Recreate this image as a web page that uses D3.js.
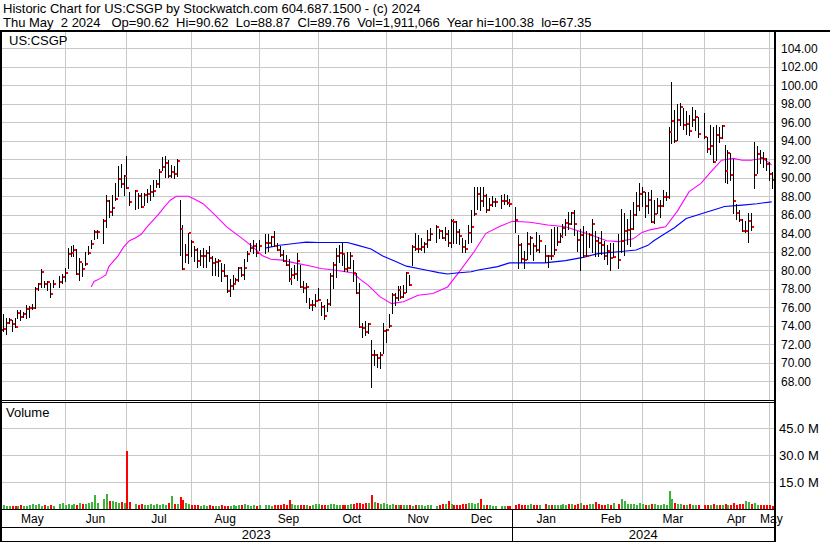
<!DOCTYPE html>
<html><head><meta charset="utf-8">
<script src="https://cdn.jsdelivr.net/npm/d3@7"></script>
<style>
html,body{margin:0;padding:0;background:#fff;}
svg{display:block;font-family:"Liberation Sans",Arial,sans-serif;}
</style></head><body>
<svg id="chart" width="830" height="543"></svg>
<script>
// ---------------- data ----------------
const titleLine = "Historic Chart for US:CSGP by Stockwatch.com 604.687.1500 - (c) 2024";
const quoteLine = "Thu May  2 2024   Op=90.62  Hi=90.62  Lo=88.87  Cl=89.76  Vol=1,911,066  Year hi=100.38  lo=67.35";
const symbolLabel = "US:CSGP";
const volumeLabel = "Volume";

// one slot per weekday from May 2 2023 (slot 0) to May 2 2024 (slot 262); null = market closed
const high = [74.0,75.3,74.8,74.8,74.6,74.8,75.7,75.7,75.5,76.3,76.1,76.4,78.2,78.6,80.1,78.8,78.8,78.6,79.0,null,
79.4,79.6,80.2,82.4,82.6,82.7,82.3,81.3,80.8,82.0,82.6,83.3,84.4,84.4,null,85.5,88.1,87.6,88.1,89.4,
91.3,91.5,90.3,92.4,88.5,null,88.7,88.4,88.4,88.4,88.8,89.2,89.8,89.8,90.9,92.3,92.4,91.9,91.4,91.3,
92.0,87.6,84.9,82.8,84.0,83.3,82.6,82.4,82.2,82.4,82.2,82.6,81.5,81.3,81.2,80.8,80.7,79.5,79.1,79.5,
79.2,80.4,80.4,81.2,82.1,83.0,83.3,83.0,83.3,null,83.9,83.9,83.7,84.2,83.0,82.6,82.2,81.7,81.2,80.3,
80.6,81.9,80.6,78.8,78.6,77.0,76.8,77.4,78.1,76.6,76.3,76.9,79.7,80.9,82.4,82.7,82.9,81.7,82.0,82.0,
81.1,79.7,78.6,74.3,74.5,74.3,72.5,71.4,71.0,71.2,74.3,73.7,75.25,77.6,77.5,78.35,78.35,78.4,79.8,79.5,
82.7,84.0,83.8,83.46,83.1,84.36,84.54,null,84.9,84.5,84.4,84.7,84.4,85.6,85.5,85.3,84.5,83.5,83.3,84.9,
86.5,89.0,89.0,89.0,89.0,88.3,87.8,88.0,87.8,null,88.1,88.3,88.1,87.7,null,86.8,83.8,83.0,82.1,84.1,
83.7,82.9,84.1,83.8,null,82.7,81.7,84.5,84.7,84.7,84.0,85.0,85.6,86.3,86.3,86.5,84.3,84.5,84.8,84.3,
84.0,85.6,84.3,83.6,84.3,83.2,82.7,83.0,83.0,null,83.9,86.6,86.2,85.6,86.5,87.4,88.5,89.4,89.0,88.5,
88.5,88.7,87.6,87.8,87.6,88.7,88.5,95.5,100.38,97.3,98.0,98.05,97.6,97.2,96.8,97.7,97.3,96.6,null,97.0,
94.45,95.7,95.5,95.7,95.5,95.7,93.5,93.0,92.65,92.0,87.2,86.5,85.6,85.3,86.2,86.2,93.9,93.4,93.0,92.8,
92.1,91.7,90.62];
const low = [73.0,73.4,73.1,74.3,73.4,73.9,74.8,74.6,75.0,74.8,75.0,75.8,75.9,77.9,78.2,78.2,77.9,77.1,78.2,null,
78.2,78.6,78.8,80.2,81.5,81.5,79.6,78.9,79.4,80.6,81.8,82.4,83.4,83.5,null,83.0,84.7,85.8,86.0,87.6,
88.0,89.0,88.1,88.9,87.1,null,86.6,86.7,86.8,87.1,87.4,87.6,88.0,89.0,89.0,90.8,90.1,90.1,90.1,90.0,
90.2,81.7,80.1,80.9,80.8,81.5,81.0,80.4,80.6,80.4,80.4,81.0,79.5,79.5,79.4,78.8,79.4,77.7,77.2,78.0,
78.5,78.8,79.4,79.1,81.0,82.1,81.9,81.5,82.2,null,81.9,82.1,82.6,82.6,82.2,81.5,81.0,80.6,78.8,78.5,
79.2,79.0,78.2,77.7,76.6,75.9,75.7,76.1,76.8,75.2,74.7,75.6,76.3,78.1,79.3,80.9,80.6,79.9,79.9,80.2,
78.8,77.5,73.9,72.8,73.0,73.2,67.35,69.8,69.6,69.4,71.1,72.3,73.9,75.35,76.25,76.8,77.0,77.15,77.7,78.4,
80.6,82.2,82.0,82.2,82.0,82.56,83.28,null,83.1,83.5,83.5,83.3,82.6,82.5,82.9,82.9,82.8,82.0,82.0,82.9,
83.1,86.0,86.6,86.5,86.9,86.3,86.5,86.9,86.9,null,86.7,87.2,87.2,86.9,null,84.1,80.3,80.9,80.3,81.2,
81.8,81.1,82.1,82.0,null,80.9,80.4,81.2,81.8,82.7,83.1,83.6,83.8,84.5,85.0,83.8,82.1,80.0,81.5,81.5,
82.5,82.0,81.6,81.6,81.8,81.2,80.7,80.0,81.4,null,80.2,82.0,81.7,82.8,82.6,84.5,86.0,86.5,86.9,85.8,
86.2,85.2,85.1,86.2,85.8,86.9,87.6,87.8,93.8,93.9,94.1,95.7,95.3,94.7,94.6,95.6,95.2,94.4,null,94.3,
92.8,92.6,91.75,91.9,93.9,94.3,89.6,89.4,89.8,86.2,85.6,85.3,84.2,84.1,83.1,84.4,88.9,90.5,91.6,91.2,
90.8,89.8,88.87];
const close = [73.5,73.7,74.3,74.6,74.2,73.9,75.4,74.9,75.3,75.8,75.9,75.9,78.0,78.5,79.8,78.5,78.7,77.4,78.5,null,
78.7,79.3,79.7,81.8,81.9,82.2,79.6,80.9,80.1,80.7,81.9,82.8,84.1,84.1,null,85.3,87.5,86.3,86.7,87.7,
89.9,89.3,90.2,88.9,87.4,null,88.6,88.0,86.8,88.1,88.3,88.5,88.6,89.3,90.6,91.2,91.6,90.2,90.6,90.4,
91.8,84.5,80.1,81.7,84.0,83.1,82.2,81.0,81.5,81.5,81.9,81.3,80.8,80.9,81.0,79.9,79.4,77.8,78.3,78.5,
79.0,80.3,79.5,80.3,81.8,82.4,82.6,81.9,82.6,null,83.0,83.0,83.6,82.6,82.2,81.7,81.0,80.6,79.1,79.5,
79.6,81.0,78.2,78.1,78.2,76.3,76.3,76.7,76.8,76.0,75.1,76.4,79.4,80.6,81.6,81.9,81.8,80.1,80.3,81.6,
79.7,77.6,73.9,73.8,73.3,74.2,70.85,70.85,70.55,70.8,73.4,73.55,74.0,77.3,77.05,77.9,77.15,77.5,79.7,78.4,
82.55,82.3,82.3,82.56,82.8,83.28,83.9,null,84.7,84.25,83.5,83.9,82.9,85.3,85.2,84.1,83.7,82.5,82.3,84.0,
84.7,86.1,88.2,87.5,88.0,86.5,87.1,87.4,87.4,null,87.5,87.5,87.3,87.2,null,85.4,82.7,81.2,81.1,82.8,
83.5,82.6,82.2,83.2,null,81.6,81.6,81.5,82.2,83.1,83.7,84.6,85.1,85.0,86.2,85.0,83.3,83.8,81.6,81.5,
83.8,85.0,83.2,83.0,82.7,81.5,82.1,81.3,81.4,null,81.1,83.2,84.2,84.4,84.5,86.0,87.0,88.3,88.5,87.0,
87.6,85.2,86.1,86.9,87.0,87.9,87.9,95.0,96.1,94.0,96.25,97.7,95.7,95.8,95.1,96.2,96.6,94.7,null,94.4,
93.1,93.4,91.75,94.6,94.3,95.6,90.7,92.7,90.3,87.5,86.2,85.4,84.2,84.2,85.3,84.7,90.3,92.6,92.1,92.0,
91.5,90.4,89.76];
// volume, millions of shares
const volume = [1.8,2.0,1.6,1.9,1.7,1.5,1.8,2.1,1.7,1.9,2.2,2.6,2.0,2.8,1.7,2.3,1.9,2.1,1.8,null,
2.9,3.1,2.4,2.7,2.5,3.0,2.2,3.2,2.6,2.9,3.4,3.8,7.8,3.5,null,5.6,8.4,4.2,4.5,4.0,
3.6,4.1,3.3,32.3,3.9,null,2.6,2.2,2.9,2.4,2.5,2.7,2.3,2.6,2.4,2.8,2.2,3.1,7.2,2.9,
3.0,6.7,4.8,3.3,2.6,2.1,2.3,2.0,1.9,2.0,1.8,2.1,1.7,1.9,1.6,2.0,1.5,1.8,1.7,2.2,
1.9,2.4,2.1,2.6,2.3,1.9,2.0,1.8,2.4,null,2.1,2.3,1.9,2.5,2.2,2.0,2.6,2.3,5.0,2.7,
2.2,2.4,2.1,2.0,2.3,1.9,2.2,2.6,2.8,2.3,2.5,2.1,2.9,2.8,2.4,2.2,2.0,2.3,2.5,2.7,
2.6,3.2,3.5,3.0,3.3,3.1,7.8,4.1,3.4,2.9,3.5,2.6,2.4,2.8,2.3,2.2,2.5,2.1,2.4,2.0,
1.9,2.3,2.2,2.0,1.8,2.1,2.4,null,1.9,2.3,2.6,3.0,4.6,2.8,2.5,2.2,2.4,2.9,2.7,3.1,
3.4,3.0,3.6,5.6,2.5,2.3,2.1,1.9,1.7,null,1.5,1.6,1.8,1.7,null,2.4,2.8,2.3,2.1,2.5,
3.0,2.2,2.0,2.3,null,2.6,2.4,2.2,2.5,2.1,2.3,2.7,2.4,2.9,2.6,2.2,2.8,3.2,2.5,2.3,
2.7,3.0,4.1,2.6,2.4,2.2,2.8,2.5,3.1,null,2.9,5.6,4.4,3.0,2.6,2.8,2.4,3.2,2.7,2.3,
2.5,2.9,2.6,2.2,2.4,2.8,2.3,10.0,5.6,3.3,2.9,2.6,2.4,2.2,2.7,2.3,2.5,2.1,null,2.0,
2.3,2.1,2.6,2.4,2.2,2.0,2.7,2.5,2.3,3.1,2.4,2.6,2.8,4.6,4.0,2.9,3.3,2.5,2.2,2.1,
2.4,2.3,1.91];

// moving averages: [slot, price]
const maShort = [[31,78.2],[32,78.8],[34,79.1],[36,79.5],[37,80.4],[40,81.5],[42,82.5],[44,83.2],[46,83.5],[48,83.9],
[50,84.7],[52,85.4],[54,86.1],[56,86.9],[58,87.6],[60,88.0],[64,88.0],[66,87.7],[69,87.2],[73,86.0],[77,84.7],
[82,83.5],[86,82.5],[89,81.6],[92,81.2],[96,81.1],[100,80.8],[105,80.5],[109,80.2],[114,80.0],[120,79.7],
[122,79.1],[125,78.4],[129,77.15],[133,76.4],[137,76.6],[142,77.3],[147,77.5],[152,78.2],[156,79.85],[161,82.0],
[165,84.0],[170,84.8],[174,85.3],[180,85.2],[186,84.9],[192,84.7],[196,84.3],[201,83.8],[206,83.2],[210,83.1],
[215,83.4],[218,84.1],[221,84.4],[226,84.7],[230,86.4],[234,88.5],[238,89.4],[241,90.5],[245,91.9],[249,92.1],
[252,91.9],[255,91.9],[259,92.1],[262,91.4]];
const maLong = [[90,82.4],[95,82.7],[100,82.9],[104,83.05],[108,83.0],[112,83.0],[118,83.0],[121,82.75],[126,82.3],
[130,81.55],[134,81.0],[138,80.45],[145,80.0],[149,79.75],[152,79.6],[155,79.7],[160,79.85],[162,80.0],[169,80.4],
[173,80.8],[180,80.8],[185,80.8],[192,81.05],[198,81.4],[203,81.8],[210,82.0],[216,82.2],[220,82.7],[222,83.2],
[226,84.0],[229,84.6],[233,85.6],[236,85.9],[240,86.3],[242,86.5],[246,86.9],[252,87.05],[257,87.2],[262,87.4]];

const monthLabels = ["May","Jun","Jul","Aug","Sep","Oct","Nov","Dec","Jan","Feb","Mar","Apr","May"];
const monthSlots  = [0,22,43,65,88,108,131,153,174,197,218,239,261];
const yearLabels  = ["2023","2024"];
const yearSlots   = [0,174];
const priceTicks  = d3.range(68, 104.01, 2);
const volumeTicks = [15,30,45];

// ---------------- layout ----------------
const svg = d3.select("#chart");
const plotR = 774;
const priceTop = 32, priceBottom = 400, volTop = 402, volBottom = 509;
const x  = d3.scaleLinear().domain([0, 262]).range([-0.2, 771.65]);
const y  = d3.scaleLinear().domain([68, 104]).range([381.3, 48.3]);
const yv = d3.scaleLinear().domain([0, 45]).range([509, 428.3]);
const px = v => Math.round(v) + 0.5;
const grid = "#c8c8c8";

const defs = svg.append("defs");
defs.append("clipPath").attr("id","cp").append("rect").attr("x",2).attr("y",priceTop).attr("width",plotR-2).attr("height",priceBottom-priceTop);
defs.append("clipPath").attr("id","cv").append("rect").attr("x",2).attr("y",volTop+1).attr("width",plotR-2).attr("height",volBottom-volTop);

// header
svg.append("text").attr("x",3).attr("y",13).attr("font-size",13).style("white-space","pre").text(titleLine);
svg.append("text").attr("x",3).attr("y",27).attr("font-size",13).style("white-space","pre").text(quoteLine);

// gridlines price
const gP = svg.append("g").attr("clip-path","url(#cp)");
gP.selectAll("line.h").data(priceTicks).join("line")
  .attr("x1",2).attr("x2",plotR).attr("y1",d=>px(y(d))).attr("y2",d=>px(y(d)))
  .attr("stroke",grid).attr("stroke-width",1).attr("shape-rendering","crispEdges");
gP.selectAll("line.v").data(monthSlots.slice(1)).join("line").attr("class","v")
  .attr("x1",d=>px(x(d))).attr("x2",d=>px(x(d))).attr("y1",priceTop).attr("y2",priceBottom)
  .attr("stroke",grid).attr("stroke-width",1).attr("shape-rendering","crispEdges");

// gridlines volume
const gV = svg.append("g").attr("clip-path","url(#cv)");
gV.selectAll("line.h").data(volumeTicks).join("line")
  .attr("x1",2).attr("x2",plotR).attr("y1",d=>px(yv(d))).attr("y2",d=>px(yv(d)))
  .attr("stroke",grid).attr("stroke-width",1).attr("shape-rendering","crispEdges");
gV.selectAll("line.v").data(monthSlots.slice(1)).join("line").attr("class","v")
  .attr("x1",d=>px(x(d))).attr("x2",d=>px(x(d))).attr("y1",volTop).attr("y2",volBottom)
  .attr("stroke",grid).attr("stroke-width",1).attr("shape-rendering","crispEdges");

// moving averages
const line = d3.line().x(d=>x(d[0])).y(d=>y(d[1]));
gP.append("path").datum(maShort).attr("d",line).attr("fill","none").attr("stroke","#ff00ff").attr("stroke-width",1.1);
gP.append("path").datum(maLong).attr("d",line).attr("fill","none").attr("stroke","#0000ff").attr("stroke-width",1.1);

// price bars
const idx = d3.range(high.length).filter(i => high[i] != null);
gP.selectAll("line.bar").data(idx).join("line").attr("class","bar")
  .attr("x1",i=>px(x(i))).attr("x2",i=>px(x(i)))
  .attr("y1",i=>Math.round(y(high[i]))).attr("y2",i=>Math.round(y(low[i]))+1)
  .attr("stroke","#000").attr("stroke-width",1).attr("shape-rendering","crispEdges");
gP.selectAll("rect.cl").data(idx).join("rect").attr("class","cl")
  .attr("x",i=>Math.round(x(i))+1).attr("y",i=>Math.round(y(close[i]))-1)
  .attr("width",2).attr("height",2).attr("fill","#ff0000").attr("shape-rendering","crispEdges");

// volume bars
let prev = null;
const upDown = high.map((h,i)=>{ if(close[i]==null) return null; const up = prev==null || close[i] >= prev; prev = close[i]; return up; });
gV.selectAll("rect.vb").data(idx).join("rect").attr("class","vb")
  .attr("x",i=>Math.round(x(i))).attr("width",2)
  .attr("y",i=>Math.round(yv(volume[i]))).attr("height",i=>volBottom - Math.round(yv(volume[i])))
  .attr("fill",i=>upDown[i] ? "#3cb43c" : "#ff0000").attr("shape-rendering","crispEdges");

// frame
const blk = (x1,y1,x2,y2,w) => svg.append("line").attr("x1",x1).attr("y1",y1).attr("x2",x2).attr("y2",y2).attr("stroke","#000").attr("stroke-width",w||1).attr("shape-rendering","crispEdges");
blk(0,31,830,31,2);
blk(1,31,1,542,2);
blk(775,31,775,542,2);
blk(0,400.5,plotR,400.5,1);
blk(0,402.5,plotR,402.5,1);
blk(0,509.5,plotR,509.5,1.5);
blk(0,527.5,plotR,527.5,1.5);
blk(0,541.5,plotR,541.5,1.5);
blk(px(x(yearSlots[1])),509,px(x(yearSlots[1])),542,1);

// labels
svg.append("text").attr("x",9).attr("y",45).attr("font-size",13).text(symbolLabel);
svg.append("text").attr("x",6).attr("y",417).attr("font-size",13).text(volumeLabel);
svg.selectAll("text.pt").data(priceTicks).join("text").attr("class","pt")
  .attr("x",781).attr("y",d=>y(d)+4.3).attr("font-size",12).attr("fill","#000")
  .text(d=>d.toFixed(2));
svg.selectAll("text.vt").data(volumeTicks).join("text").attr("class","vt")
  .attr("x",779).attr("y",d=>yv(d)+4.5).attr("font-size",13).attr("fill","#000")
  .text(d=>d.toFixed(1)+" M");
const edges = monthSlots.map((s,i)=> i===0 ? 0 : x(s)).concat([plotR]);
svg.selectAll("text.mo").data(monthLabels).join("text").attr("class","mo")
  .attr("x",(d,i)=>(edges[i]+edges[i+1])/2).attr("y",523).attr("font-size",12)
  .attr("text-anchor","middle").text(d=>d);
const yEdges = yearSlots.map((s,i)=> i===0 ? 0 : x(s)).concat([plotR]);
svg.selectAll("text.yr").data(yearLabels).join("text").attr("class","yr")
  .attr("x",(d,i)=>(yEdges[i]+yEdges[i+1])/2).attr("y",539).attr("font-size",13)
  .attr("text-anchor","middle").text(d=>d);
</script>
</body></html>
